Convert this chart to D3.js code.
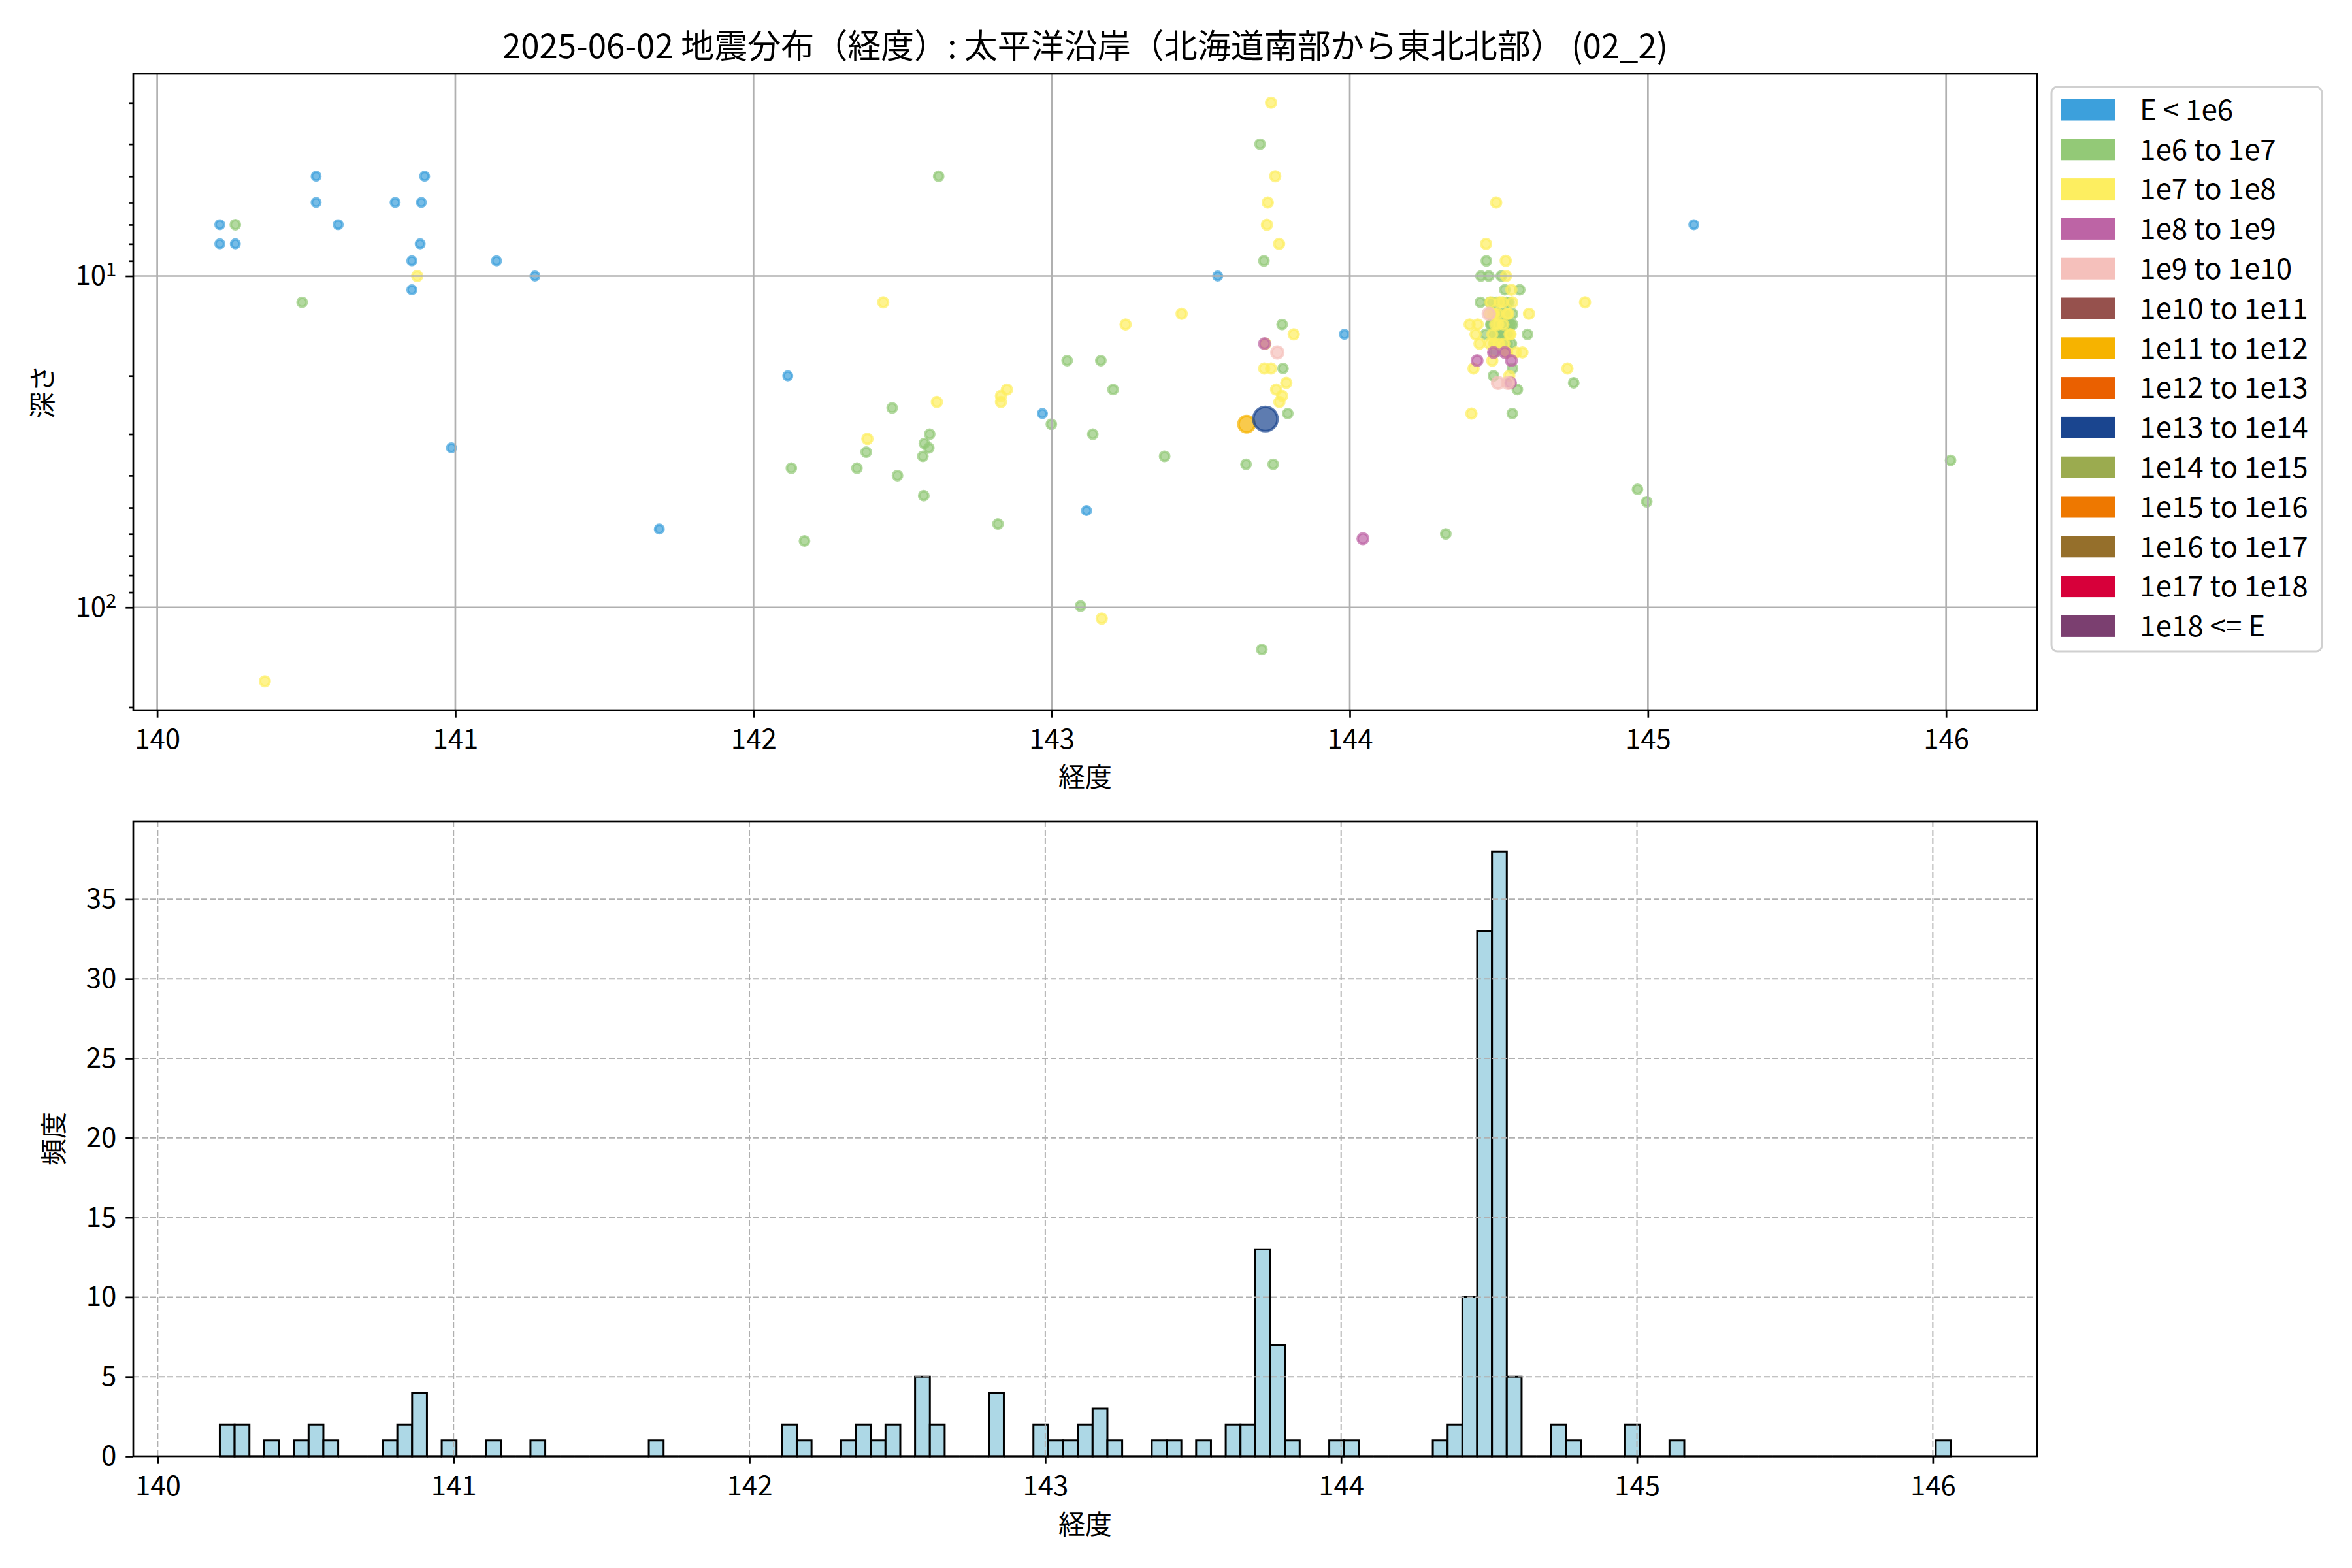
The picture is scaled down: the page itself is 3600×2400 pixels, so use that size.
<!DOCTYPE html>
<html><head><meta charset="utf-8">
<script src="https://cdn.jsdelivr.net/npm/d3@7"></script>
<style>
body{margin:0;background:#fff}
svg{display:block}
text{font-family:"Noto Sans CJK JP","Noto Sans",sans-serif;fill:#000}
</style>
</head><body>
<svg id="chart" width="3600" height="2400"></svg>
<script>
// ---------------- data ----------------
const titleText = "2025-06-02 地震分布（経度）: 太平洋沿岸（北海道南部から東北北部） (02_2)";
const xLabel = "経度";
const yLabelTop = "深さ";
const yLabelHist = "頻度";

const energyLabels = ["E < 1e6","1e6 to 1e7","1e7 to 1e8","1e8 to 1e9","1e9 to 1e10","1e10 to 1e11",
  "1e11 to 1e12","1e12 to 1e13","1e13 to 1e14","1e14 to 1e15","1e15 to 1e16","1e16 to 1e17",
  "1e17 to 1e18","1e18 <= E"];

// [longitude, depth km] per energy class
const eLt6 = [[140.21,7],[140.21,8],[140.262,8],[140.533,5],[140.533,6],[140.607,7],[140.798,6],[140.886,6],
  [140.897,5],[140.882,8],[140.854,9],[140.854,11],[141.138,9],[141.267,10],[140.987,33],[141.684,58],
  [142.115,20],[142.969,26],[143.117,51],[143.557,10],[143.982,15],[145.154,7]];
const e6to7 = [[140.262,7],[140.486,12],[142.621,5],[143.052,18],[143.165,18],[143.206,22],[142.465,25],
  [142.999,28],[142.591,30],[143.138,30],[142.573,32],[142.588,33],[142.378,34],[142.568,35],[143.379,35],
  [142.127,38],[142.347,38],[142.483,40],[142.571,46],[142.82,56],[142.171,63],[143.097,99],[143.699,4],
  [143.712,9],[143.773,14],[143.776,19],[143.792,26],[143.652,37],[143.743,37],[143.705,134],[144.322,60],
  [144.751,21],[144.965,44],[144.996,48],[146.015,36],
  [144.458,9],[144.440,10],[144.466,10],[144.508,10],[144.520,11],[144.570,11],[144.438,12],[144.479,12],
  [144.534,12],[144.502,13],[144.546,13],[144.473,14],[144.524,14],[144.546,14],[144.455,15],[144.491,15],
  [144.513,15],[144.596,15],[144.513,16],[144.542,16],[144.546,19],[144.482,20],[144.562,22],[144.545,26],
  [144.470,12],[144.490,13],[144.475,14],[144.495,15],[144.485,16],[144.493,12],[144.505,14],[144.487,17],
  [144.482,15],[144.515,13],[144.520,14],[144.530,15],[144.525,12],[144.540,14],[144.528,16],[144.522,13],
  [144.520,15],[144.533,14]];
const e7to8 = [[140.872,10],[140.361,167],[142.435,12],[143.248,14],[142.85,22],[142.83,23],[142.83,24],
  [142.615,24],[142.382,31],[143.168,108],[143.736,3],[143.75,5],[143.725,6],[143.722,7],[143.763,8],
  [143.812,15],[143.436,13],[143.713,19],[143.736,19],[143.787,21],[143.753,22],[143.773,23],[143.764,24],
  [143.717,16],[144.789,12],[144.73,19],
  [144.491,6],[144.457,8],[144.523,9],[144.524,10],[144.542,11],[144.502,12],[144.513,12],[144.469,13],
  [144.484,13],[144.528,13],[144.601,13],[144.402,14],[144.429,14],[144.498,14],[144.422,15],[144.539,15],
  [144.435,16],[144.469,16],[144.484,16],[144.528,17],[144.558,17],[144.579,17],[144.478,18],[144.415,19],
  [144.535,20],[144.408,26],
  [144.480,13],[144.488,14],[144.478,15],[144.500,16],[144.472,12],[144.497,13],[144.518,16],[144.532,13],
  [144.515,14],[144.536,15],[144.545,12],[144.527,17]];
const e8to9 = [[143.714,16],[144.044,62],[144.482,17],[144.520,17],[144.427,18],[144.542,18],[144.539,21]];
const e9to10 = [[143.757,17],[144.466,13],[144.497,21],[144.531,21]];
const e10to11 = [];
const e11to12 = [[143.654,28]];
const e12to13 = [];
const e13to14 = [[143.717,27]];
const classEvents = [eLt6,e6to7,e7to8,e8to9,e9to10,e10to11,e11to12,e12to13,e13to14,[],[],[],[],[]];

const lonTicks = [140,141,142,143,144,145,146];
const depthTicks = [10,100];
const countTicks = [0,5,10,15,20,25,30,35];
const binWidth = 0.05;

// ---------------- styles ----------------
const energyColors = ["#3ca0dc","#93c977","#fdee60","#bd64a5","#f5c0bb","#96514d","#f6b300","#ea6000",
  "#1a458f","#9bab4f","#ee7800","#956f2b","#d7003a","#7b3f70"];
const markerR = [6.5,7,7.5,8,9,10.5,12.5,15,18.5,21,24,27,30,33];
const FONT = 42;

const svg = d3.select("#chart");
const T = {left:204, right:3118, top:113, bottom:1087};
const B = {left:204, right:3118, top:1257, bottom:2229};

const allEvents = [];
classEvents.forEach((arr,ci)=>arr.forEach(d=>allEvents.push({lon:d[0],depth:d[1],cls:ci})));
const lons = allEvents.map(d=>d.lon);
const depths = allEvents.map(d=>d.depth);

function pad(a,b){const m=(b-a)*0.05;return [a-m,b+m];}

// ---------------- title ----------------
svg.append("text").attr("x",(T.left+T.right)/2).attr("y",89).attr("text-anchor","middle")
  .attr("font-size",51).text(titleText);

// ---------------- top scatter ----------------
const [lmin,lmax] = d3.extent(lons);
const xTop = d3.scaleLinear().domain(pad(lmin,lmax)).range([T.left,T.right]);
const [dmin,dmax] = d3.extent(depths);
const ld = pad(Math.log10(dmin),Math.log10(dmax));
const yTop = d3.scaleLog().domain([10**ld[0],10**ld[1]]).range([T.top,T.bottom]);

const gPts = svg.append("g");
classEvents.forEach((arr,ci)=>{
  gPts.selectAll(null).data(arr).enter().append("circle")
    .attr("cx",d=>xTop(d[0])).attr("cy",d=>yTop(d[1])).attr("r",markerR[ci])
    .attr("fill",energyColors[ci]).attr("fill-opacity",0.7)
    .attr("stroke",energyColors[ci]).attr("stroke-opacity",0.7).attr("stroke-width",4);
});

// grid (above points, matplotlib default)
const gGridT = svg.append("g").attr("stroke","#b0b0b0").attr("stroke-width",2.7);
gGridT.selectAll(null).data(lonTicks).enter().append("line")
  .attr("x1",d=>xTop(d)).attr("x2",d=>xTop(d)).attr("y1",T.top).attr("y2",T.bottom);
gGridT.selectAll(null).data(depthTicks).enter().append("line")
  .attr("y1",d=>yTop(d)).attr("y2",d=>yTop(d)).attr("x1",T.left).attr("x2",T.right);

function styleAxis(g){
  g.select(".domain").remove();
  g.selectAll(".tick line").attr("stroke","#000").attr("stroke-width",2.7);
  g.selectAll(".tick text").attr("font-size",FONT).attr("fill","#000")
    .attr("font-family",'"Noto Sans CJK JP","Noto Sans",sans-serif');
}
// x axis top
svg.append("g").attr("transform",`translate(0,${T.bottom})`)
  .call(d3.axisBottom(xTop).tickValues(lonTicks).tickSize(11.7).tickPadding(17).tickFormat(d3.format("d")))
  .call(styleAxis);
// y axis (log) major
const gy = svg.append("g").attr("transform",`translate(${T.left},0)`)
  .call(d3.axisLeft(yTop).tickValues(depthTicks).tickSize(11.7).tickPadding(14).tickFormat(()=>""))
  .call(styleAxis);
gy.selectAll(".tick text").each(function(d){
  const t=d3.select(this); t.text(null);
  t.append("tspan").text("10");
  t.append("tspan").attr("dy","-0.45em").attr("font-size",FONT*0.7).text(Math.round(Math.log10(d)));
});
// minor ticks
const minor = yTop.ticks().filter(v=>!depthTicks.includes(v));
svg.append("g").attr("transform",`translate(${T.left},0)`)
  .call(d3.axisLeft(yTop).tickValues(minor).tickSize(6.7).tickFormat(()=>""))
  .call(styleAxis);
// spines
svg.append("rect").attr("x",T.left).attr("y",T.top).attr("width",T.right-T.left).attr("height",T.bottom-T.top)
  .attr("fill","none").attr("stroke","#000").attr("stroke-width",2.7);
// labels
svg.append("text").attr("x",(T.left+T.right)/2).attr("y",1204).attr("text-anchor","middle")
  .attr("font-size",41).text(xLabel);
svg.append("text").attr("transform",`translate(80,${(T.top+T.bottom)/2}) rotate(-90)`)
  .attr("text-anchor","middle").attr("font-size",41).text(yLabelTop);

// legend
const L = {x:3140,y:133,w:414,h:864};
const gL = svg.append("g");
gL.append("rect").attr("x",L.x).attr("y",L.y).attr("width",L.w).attr("height",L.h).attr("rx",9)
  .attr("fill","#fff").attr("fill-opacity",0.8).attr("stroke","#d0d0d0").attr("stroke-width",3);
const ent = gL.selectAll(null).data(energyLabels).enter().append("g")
  .attr("transform",(d,i)=>`translate(0,${168+i*60.8})`);
ent.append("rect").attr("x",3155).attr("y",-16.5).attr("width",83).attr("height",33)
  .attr("fill",(d,i)=>energyColors[i]);
ent.append("text").attr("x",3275).attr("y",0).attr("dy","0.36em").attr("font-size",44).text(d=>d);

// ---------------- histogram ----------------
const e0 = lmin;
const nb = Math.ceil((lmax-lmin)/binWidth - 1e-9);
const edges = d3.range(nb+1).map(k=>e0+k*binWidth);
const bins = d3.bin().domain([edges[0],edges[nb]]).thresholds(edges.slice(1,nb))(lons);
const xH = d3.scaleLinear().domain(pad(edges[0],edges[nb])).range([B.left,B.right]);
const yH = d3.scaleLinear().domain([0,d3.max(bins,b=>b.length)*1.05]).range([B.bottom,B.top]);

svg.append("g").selectAll(null).data(bins).enter().append("path")
  .attr("d",b=>{const x0=xH(b.x0),x1=xH(b.x1),y0=yH(0),y1=yH(b.length);
    return `M${x0},${y0}V${y1}H${x1}V${y0}Z`;})
  .attr("fill","#add8e6").attr("stroke","#000").attr("stroke-width",3).attr("stroke-linejoin","miter");

const gGridH = svg.append("g").attr("stroke","#b0b0b0").attr("stroke-width",2).attr("stroke-dasharray","9,4");
gGridH.selectAll(null).data(lonTicks).enter().append("line")
  .attr("x1",d=>xH(d)).attr("x2",d=>xH(d)).attr("y1",B.top).attr("y2",B.bottom);
gGridH.selectAll(null).data(countTicks).enter().append("line")
  .attr("y1",d=>yH(d)).attr("y2",d=>yH(d)).attr("x1",B.left).attr("x2",B.right);

svg.append("g").attr("transform",`translate(0,${B.bottom})`)
  .call(d3.axisBottom(xH).tickValues(lonTicks).tickSize(11.7).tickPadding(18).tickFormat(d3.format("d")))
  .call(styleAxis);
svg.append("g").attr("transform",`translate(${B.left},0)`)
  .call(d3.axisLeft(yH).tickValues(countTicks).tickSize(11.7).tickPadding(14).tickFormat(d3.format("d")))
  .call(styleAxis);
svg.append("rect").attr("x",B.left).attr("y",B.top).attr("width",B.right-B.left).attr("height",B.bottom-B.top)
  .attr("fill","none").attr("stroke","#000").attr("stroke-width",2.7);
svg.append("text").attr("x",(B.left+B.right)/2).attr("y",2348).attr("text-anchor","middle")
  .attr("font-size",41).text(xLabel);
svg.append("text").attr("transform",`translate(97,${(B.top+B.bottom)/2}) rotate(-90)`)
  .attr("text-anchor","middle").attr("font-size",41).text(yLabelHist);
</script>
</body></html>
